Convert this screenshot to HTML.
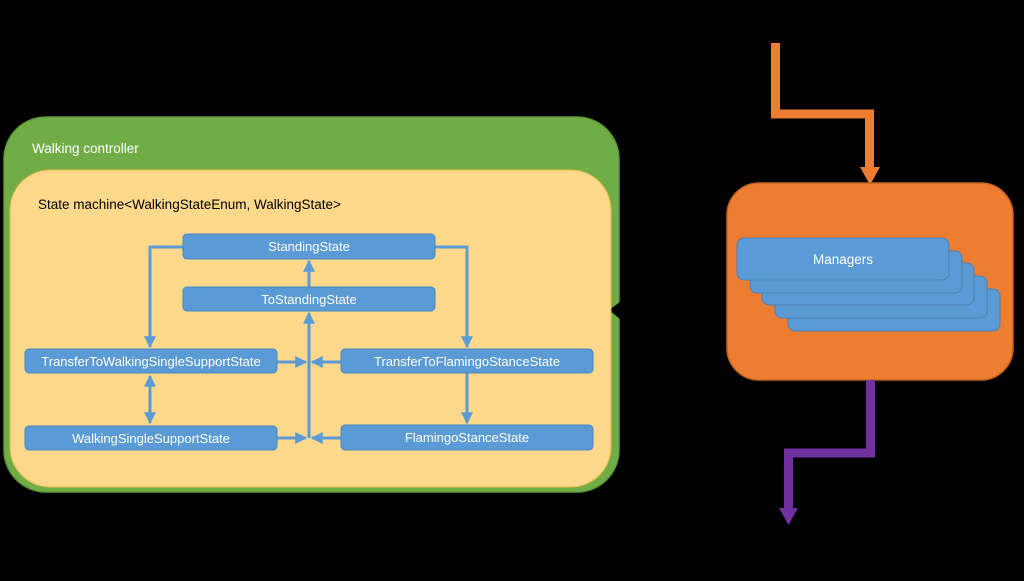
<!DOCTYPE html>
<html><head><meta charset="utf-8"><style>
body{margin:0;background:#000;width:1024px;height:576px;overflow:hidden;font-family:"Liberation Sans",sans-serif}
</style></head><body>
<svg width="1024" height="576" viewBox="0 0 1024 576" xmlns="http://www.w3.org/2000/svg" font-family="Liberation Sans, sans-serif">
<defs>
<marker id="ab" viewBox="0 0 10 10" refX="9" refY="5" markerWidth="4" markerHeight="4" orient="auto-start-reverse"><path d="M0,0L10,5L0,10z" fill="#5b9bd5"/></marker>
</defs>
<rect x="0" y="0" width="1024" height="576" fill="#000"/>
<rect x="4" y="117" width="615" height="375" rx="42" fill="#70ad47" stroke="#5f9a3a" stroke-width="1.5"/>
<path d="M620,302 L609,310 L620,319 Z" fill="#000"/>
<rect x="10" y="170" width="601" height="317" rx="40" fill="#ffd98b" stroke="#e8b94a" stroke-width="1"/>
<text x="32" y="153" font-size="13.5" fill="#fff">Walking controller</text>
<text x="38" y="209" font-size="13.5" fill="#000">State machine&lt;WalkingStateEnum, WalkingState&gt;</text>
<g stroke="#5b9bd5" stroke-width="3" fill="none">
<path d="M183,247 H150 V347" marker-end="url(#ab)"/>
<path d="M435,247 H467 V347" marker-end="url(#ab)"/>
<path d="M467,373 V423" marker-end="url(#ab)"/>
<path d="M150,376 V423" marker-start="url(#ab)" marker-end="url(#ab)"/>
<path d="M309,438 V313" marker-end="url(#ab)"/>
<path d="M309,287 V261" marker-end="url(#ab)"/>
<path d="M277,362 H306" marker-end="url(#ab)"/>
<path d="M341,362 H312" marker-end="url(#ab)"/>
<path d="M277,438 H306" marker-end="url(#ab)"/>
<path d="M341,438 H312" marker-end="url(#ab)"/>
</g>
<g fill="#5b9bd5" stroke="#4a86c0" stroke-width="1">
<rect x="183" y="234" width="252" height="25" rx="4"/>
<rect x="183" y="287" width="252" height="24" rx="4"/>
<rect x="25" y="349" width="252" height="24" rx="4"/>
<rect x="341" y="349" width="252" height="24" rx="4"/>
<rect x="25" y="426" width="252" height="24" rx="4"/>
<rect x="341" y="425" width="252" height="25" rx="4"/>
</g>
<g fill="#fff" font-size="13" text-anchor="middle">
<text x="309" y="251">StandingState</text>
<text x="309" y="304">ToStandingState</text>
<text x="151" y="366">TransferToWalkingSingleSupportState</text>
<text x="467" y="366">TransferToFlamingoStanceState</text>
<text x="151" y="443">WalkingSingleSupportState</text>
<text x="467" y="442">FlamingoStanceState</text>
</g>
<path d="M775.5,43 V114 H869.5 V168" stroke="#ed7d31" stroke-width="9" fill="none"/>
<path d="M860,167 L880,167 L870,185 Z" fill="#ed7d31"/>
<rect x="727" y="183" width="286" height="197" rx="32" fill="#ed7d31" stroke="#c5641f" stroke-width="1.5"/>
<path d="M870.5,380 V453 H788.5 V509" stroke="#7030a0" stroke-width="9" fill="none"/>
<path d="M779,508 L798,508 L788.5,525 Z" fill="#7030a0"/>
<g fill="#5b9bd5" stroke="#4a7fb5" stroke-width="1">
<rect x="788" y="289" width="212" height="42" rx="7"/>
<rect x="775" y="276" width="212" height="42" rx="7"/>
<rect x="762" y="263" width="212" height="42" rx="7"/>
<rect x="750" y="251" width="212" height="42" rx="7"/>
<rect x="737" y="238" width="212" height="42" rx="7"/>
</g>
<text x="843" y="264" font-size="13.5" fill="#fff" text-anchor="middle">Managers</text>
</svg>
</body></html>
